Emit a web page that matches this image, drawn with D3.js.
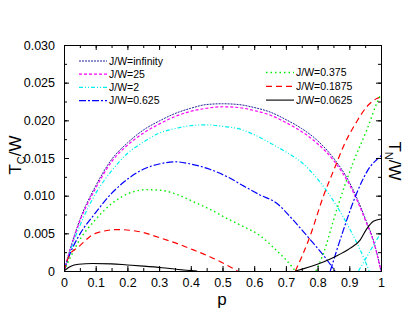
<!DOCTYPE html>
<html><head><meta charset="utf-8">
<script src="https://cdn.jsdelivr.net/npm/d3@7"></script>
<style>body{margin:0;background:#fff}svg{display:block}text{font-family:"Liberation Sans",Arial,sans-serif}</style>
</head><body><div id="c"></div>
<script>
// ---- data ----
const xTicks = [0,0.1,0.2,0.3,0.4,0.5,0.6,0.7,0.8,0.9,1];
const xTickLabels = ["0","0.1","0.2","0.3","0.4","0.5","0.6","0.7","0.8","0.9","1"];
const yTicks = [0,0.005,0.010,0.015,0.020,0.025,0.030];
const yTickLabels = ["0","0.005","0.010","0.015","0.020","0.025","0.030"];

// Tc curves
const pInf  = [0,0.02,0.05,0.1,0.15,0.2,0.25,0.3,0.35,0.4,0.45,0.5,0.55,0.6,0.65,0.7,0.75,0.8,0.85,0.9,0.95,0.98,1];
const tcInf = [0,0.0030,0.0068,0.0113,0.0148,0.0170,0.0187,0.0199,0.0209,0.0216,0.0221,0.0222,0.0221,0.0217,0.0211,0.0201,0.0189,0.0173,0.0150,0.0118,0.0070,0.0035,0];
const p25   = [0,0.02,0.05,0.1,0.15,0.2,0.25,0.3,0.35,0.4,0.45,0.5,0.55,0.6,0.65,0.7,0.75,0.8,0.85,0.9,0.95,0.98,1];
const tc25  = [0,0.0029,0.0066,0.0110,0.0145,0.0167,0.0183,0.0195,0.0205,0.0212,0.0216,0.0218,0.0217,0.0213,0.0207,0.0197,0.0185,0.0169,0.0147,0.0115,0.0068,0.0034,0];
const p2    = [0,0.02,0.05,0.1,0.15,0.2,0.25,0.3,0.35,0.4,0.45,0.5,0.55,0.6,0.65,0.7,0.75,0.8,0.85,0.9,0.93,0.963];
const tc2   = [0,0.0027,0.0060,0.0103,0.0133,0.0156,0.0171,0.0183,0.0189,0.0193,0.0194,0.0192,0.0189,0.0181,0.0170,0.0158,0.0144,0.0122,0.0093,0.0057,0.0032,0];
const p0625 = [0,0.02,0.046,0.099,0.15,0.204,0.25,0.3,0.35,0.4,0.46,0.52,0.566,0.618,0.671,0.72,0.776,0.82,0.855];
const tc0625= [0,0.0024,0.0046,0.0077,0.0103,0.0123,0.0135,0.0142,0.0145,0.0142,0.0135,0.0124,0.0113,0.0101,0.0090,0.0069,0.0042,0.0020,0];
const p0375 = [0,0.02,0.046,0.099,0.152,0.204,0.26,0.309,0.36,0.408,0.46,0.513,0.566,0.618,0.671,0.70,0.73];
const tc0375= [0,0.0018,0.0039,0.0068,0.0090,0.0103,0.0108,0.0107,0.0101,0.0092,0.0082,0.0070,0.0059,0.0047,0.0027,0.0015,0];
const p01875 = [0,0.017,0.046,0.099,0.17,0.24,0.303,0.36,0.408,0.46,0.513,0.548];
const tc01875= [0,0.0021,0.0032,0.0050,0.0055,0.0052,0.0044,0.0036,0.0028,0.0019,0.0008,0];
const p00625 = [0,0.02,0.046,0.09,0.15,0.2,0.25,0.309,0.36,0.42];
const tc00625= [0,0.0006,0.0009,0.0010,0.00095,0.0008,0.00065,0.00044,0.0002,0];

// TN curves
const pN01875 = [0.73,0.776,0.818,0.855,0.881,0.923,0.955,0.987,1];
const tn01875 = [0,0.0046,0.0099,0.0138,0.0165,0.0198,0.0218,0.0229,0.0231];
const pN0375  = [0.795,0.818,0.86,0.913,0.955,0.987,1];
const tn0375  = [0,0.0023,0.0081,0.0145,0.0187,0.0223,0.0235];
const pN0625  = [0.84,0.881,0.923,0.965,0.987,1];
const tn0625  = [0,0.0054,0.0103,0.0138,0.0148,0.0153];
const pN2     = [0.929,0.965,1];
const tn2     = [0,0.0026,0.0051];
const pN00625 = [0.73,0.776,0.818,0.855,0.902,0.934,0.955,0.976,1];
const tn00625 = [0,0.00057,0.0012,0.0019,0.0030,0.0041,0.0056,0.0066,0.0069];

const seriesNames = ["J/W=infinity","J/W=25","J/W=2","J/W=0.625","J/W=0.375","J/W=0.1875","J/W=0.0625"];

// ---- styles ----
const styles = {
  "J/W=infinity": {color:"#23239a", dash:"2,1", w:1},
  "J/W=25":       {color:"#ff00ff", dash:"3,2", w:1.2},
  "J/W=2":        {color:"#00f0f0", dash:"4,2,1,2,1,2", w:1.2},
  "J/W=0.625":    {color:"#0000ff", dash:"7,2,2,2", w:1.2},
  "J/W=0.375":    {color:"#00ee00", dash:"1.5,3", w:1.4},
  "J/W=0.1875":   {color:"#ff0000", dash:"6,4", w:1.2},
  "J/W=0.0625":   {color:"#000000", dash:null, w:1.1}
};

const curves = [
  ["J/W=infinity", pInf, tcInf],
  ["J/W=25", p25, tc25],
  ["J/W=2", p2, tc2],
  ["J/W=0.625", p0625, tc0625],
  ["J/W=0.375", p0375, tc0375],
  ["J/W=0.1875", p01875, tc01875],
  ["J/W=0.0625", p00625, tc00625],
  ["J/W=0.1875", pN01875, tn01875],
  ["J/W=0.375", pN0375, tn0375],
  ["J/W=0.625", pN0625, tn0625],
  ["J/W=2", pN2, tn2],
  ["J/W=0.0625", pN00625, tn00625]
];

const W = 420, H = 319;
const m = {l:64, t:45, r:39, b:48};
const iw = W - m.l - m.r, ih = H - m.t - m.b;

const svg = d3.select("#c").append("svg").attr("width", W).attr("height", H);
const g = svg.append("g").attr("transform", `translate(${m.l},${m.t})`);

const x = d3.scaleLinear().domain([0,1]).range([0, iw]);
const y = d3.scaleLinear().domain([0,0.03]).range([ih, 0]);

svg.append("clipPath").attr("id","cp").append("rect").attr("x",0).attr("y",-2).attr("width",iw+1).attr("height",ih+2);

// curves
const line = d3.line().x(d => x(d[0])).y(d => y(d[1])).curve(d3.curveMonotoneX);
const cg = g.append("g").attr("clip-path","url(#cp)");
curves.forEach(([name, ps, vs]) => {
  const s = styles[name];
  cg.append("path")
    .datum(ps.map((p,i) => [p, vs[i]]))
    .attr("d", line)
    .attr("fill","none")
    .attr("stroke", s.color)
    .attr("stroke-width", s.w)
    .attr("stroke-dasharray", s.dash);
});

// axes (ticks inward)
const fs = "12.5px";
const xMinor = d3.range(0, 1.0001, 0.05);
const yMinor = d3.range(0, 0.03001, 0.0025);

const axB = d3.axisBottom(x).tickValues(xTicks).tickFormat((d,i)=>xTickLabels[i]).tickSizeInner(-5).tickSizeOuter(0).tickPadding(7);
const axL = d3.axisLeft(y).tickValues(yTicks).tickFormat((d,i)=>yTickLabels[i]).tickSizeInner(-5).tickSizeOuter(0).tickPadding(9);
const axT = d3.axisTop(x).tickValues(xTicks).tickFormat("").tickSizeInner(-5).tickSizeOuter(0);
const axR = d3.axisRight(y).tickValues(yTicks).tickFormat("").tickSizeInner(-5).tickSizeOuter(0);
const axBm = d3.axisBottom(x).tickValues(xMinor).tickFormat("").tickSizeInner(-3).tickSizeOuter(0);
const axTm = d3.axisTop(x).tickValues(xMinor).tickFormat("").tickSizeInner(-3).tickSizeOuter(0);
const axLm = d3.axisLeft(y).tickValues(yMinor).tickFormat("").tickSizeInner(-3).tickSizeOuter(0);
const axRm = d3.axisRight(y).tickValues(yMinor).tickFormat("").tickSizeInner(-3).tickSizeOuter(0);

function styleAx(sel){
  sel.selectAll("path.domain").attr("stroke","#000").attr("stroke-width",1);
  sel.selectAll("line").attr("stroke","#000").attr("stroke-width",1);
  sel.selectAll("text").attr("fill","#000").style("font-size",fs).style("font-family",'"Liberation Sans",Arial,sans-serif');
}
styleAx(g.append("g").attr("transform",`translate(0,${ih})`).call(axBm));
styleAx(g.append("g").call(axTm));
styleAx(g.append("g").call(axLm));
styleAx(g.append("g").attr("transform",`translate(${iw},0)`).call(axRm));
styleAx(g.append("g").attr("transform",`translate(0,${ih})`).call(axB));
styleAx(g.append("g").call(axT));
styleAx(g.append("g").call(axL));
styleAx(g.append("g").attr("transform",`translate(${iw},0)`).call(axR));

// axis titles
svg.append("text").attr("x", 222).attr("y", 305).attr("text-anchor","middle")
  .style("font-size","17px").text("p");
const lt = svg.append("text").attr("transform","translate(21,155) rotate(-90)").attr("text-anchor","middle").style("font-size","17px");
lt.append("tspan").text("T");
lt.append("tspan").attr("dy",4).style("font-size","11px").text("C");
lt.append("tspan").attr("dy",-4).text("/W");
const rt = svg.append("text").attr("transform","translate(389,161) rotate(90)").attr("text-anchor","middle").style("font-size","17px");
rt.append("tspan").text("T");
rt.append("tspan").attr("dy",4).style("font-size","11px").text("N");
rt.append("tspan").attr("dy",-4).text("/W");

// legend
const legLeft = seriesNames.slice(0,4), legRight = seriesNames.slice(4);
function legend(names, x0, y0, dy){
  names.forEach((n,i) => {
    const s = styles[n];
    const yy = y0 + i*dy;
    svg.append("line").attr("x1",x0).attr("x2",x0+28).attr("y1",yy).attr("y2",yy)
      .attr("stroke",s.color).attr("stroke-width",s.w).attr("stroke-dasharray",s.dash);
    svg.append("text").attr("x",x0+30).attr("y",yy+3.6).style("font-size","10.5px").text(n);
  });
}
legend(legLeft, 79, 61, 13.2);
legend(legRight, 266, 72.5, 13.8);
</script></body></html>
